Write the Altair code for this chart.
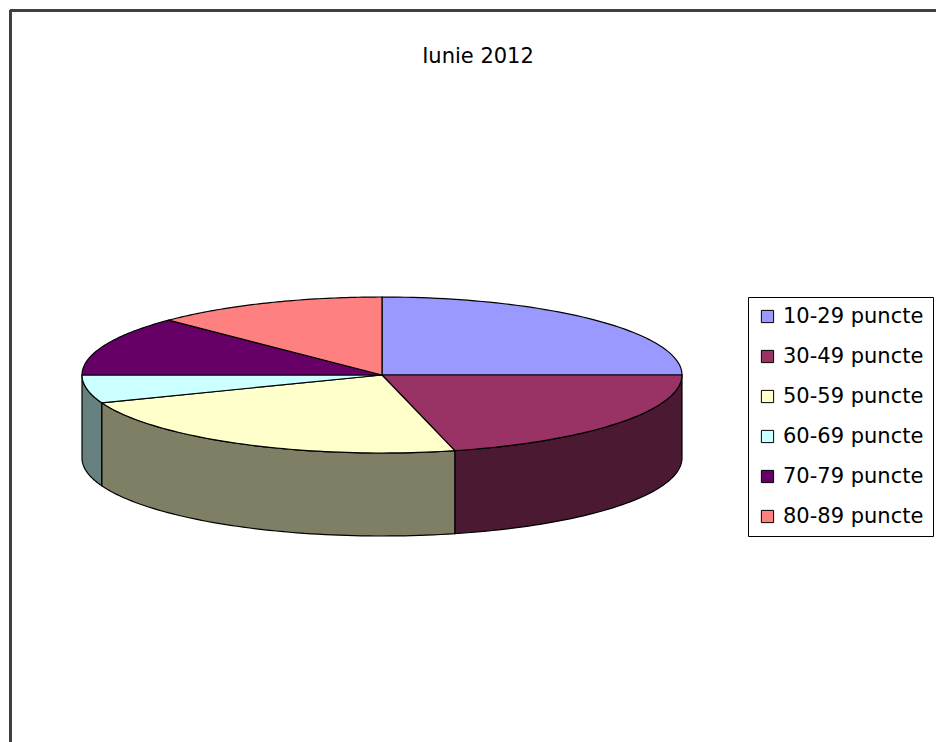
import altair as alt
import pandas as pd

# ---- data ----
categories = ["10-29 puncte", "30-49 puncte", "50-59 puncte",
              "60-69 puncte", "70-79 puncte", "80-89 puncte"]
values = [25.0, 21.1, 23.1, 5.8, 12.4, 12.6]

top_colors = ["#9999FF", "#993366", "#FFFFCC", "#CCFFFF", "#660066", "#FF8080"]
wall_colors = ["#4C4C80", "#4C1933", "#7F7F66", "#667F7F", "#330033", "#804040"]

df = pd.DataFrame({"category": categories, "value": values, "i": list(range(len(values)))})

# ---- geometry constants (pie drawn as tilted ellipse) ----
W, H = 926, 732          # plot area
PX = 300.0               # pixels per unit radius
CX, CY = 382 - 10, 375 - 10   # pie centre inside plot area (px)
K = 78 / PX              # vertical squash of the ellipse
D = 83 / PX              # depth of the wall
xmin = -CX / PX
xmax = xmin + W / PX
ymax = CY / PX
ymin = ymax - H / PX

xs = alt.Scale(domain=[xmin, xmax], nice=False, zero=False)
ys = alt.Scale(domain=[ymin, ymax], nice=False, zero=False)

base = alt.Chart(df).transform_window(
    cum="sum(value)", sort=[alt.SortField("i")]
).transform_joinaggregate(
    total="sum(value)"
).transform_calculate(
    a0="2*PI*(datum.cum - datum.value)/datum.total",
    a1="2*PI*datum.cum/datum.total",
)

N = 60
# top faces
tops = base.transform_calculate(
    pts=f"sequence(0, {N + 3})"
).transform_flatten(["pts"], as_=["j"]).transform_calculate(
    ang=f"datum.a0 + (datum.a1 - datum.a0) * (datum.j - 1) / {N}",
).transform_calculate(
    px=f"(datum.j == 0 || datum.j == {N + 2}) ? 0 : sin(datum.ang)",
    py=f"(datum.j == 0 || datum.j == {N + 2}) ? 0 : {K} * cos(datum.ang)",
).mark_line(filled=True, stroke="black", strokeWidth=1.2, strokeJoin="miter").encode(
    x=alt.X("px:Q", scale=xs, axis=None),
    y=alt.Y("py:Q", scale=ys, axis=None),
    order="j:Q",
    color=alt.Color(
        "category:N",
        scale=alt.Scale(domain=categories, range=top_colors),
        legend=alt.Legend(
            orient="none", legendX=738, legendY=287, title=None,
            symbolType="square", symbolSize=150, symbolStrokeColor="black",
            symbolStrokeWidth=1, symbolOpacity=1,
            labelFont="DejaVu Sans", labelFontSize=21, labelColor="black",
            labelOffset=5, rowPadding=18, padding=9,
            strokeColor="black", fillColor="white",
        ),
    ),
)

# front walls
walls = base.transform_calculate(
    b0="max(datum.a0, PI/2)",
    b1="min(datum.a1, 3*PI/2)",
).transform_filter("datum.b1 > datum.b0").transform_calculate(
    pts=f"sequence(0, {2 * N + 3})"
).transform_flatten(["pts"], as_=["j"]).transform_calculate(
    ang=(f"datum.j <= {N} ? datum.b0 + (datum.b1 - datum.b0) * datum.j / {N} : "
         f"(datum.j <= {2 * N + 1} ? datum.b1 - (datum.b1 - datum.b0) * (datum.j - {N + 1}) / {N} : datum.b0)"),
    low=f"(datum.j > {N} && datum.j <= {2 * N + 1}) ? 1 : 0",
).transform_calculate(
    px="sin(datum.ang)",
    py=f"{K} * cos(datum.ang) - {D} * datum.low",
).mark_line(filled=True, stroke="black", strokeWidth=1.2, strokeJoin="miter").encode(
    x=alt.X("px:Q", scale=xs, axis=None),
    y=alt.Y("py:Q", scale=ys, axis=None),
    order="j:Q",
    color=alt.Color(
        "category:N",
        scale=alt.Scale(domain=categories, range=wall_colors),
        legend=None,
    ),
)

top_rule = alt.Chart(df).mark_rule(color="#404040", strokeWidth=2.5).encode(
    x=alt.value(0), x2=alt.value(W), y=alt.value(0.5)
)
left_rule = alt.Chart(df).mark_rule(color="#404040", strokeWidth=2.5).encode(
    x=alt.value(0.5), y=alt.value(0), y2=alt.value(H)
)

chart = alt.layer(walls, tops, top_rule, left_rule).resolve_scale(
    color="independent"
).properties(
    width=W, height=H,
    autosize=alt.AutoSizeParams(type="none"),
    padding={"left": 10, "top": 10, "right": 0, "bottom": 0},
    background="white",
    title=alt.TitleParams(
        "Iunie 2012", orient="top", anchor="middle", offset=-58, dx=5,
        font="DejaVu Sans", fontSize=21, fontWeight="normal", color="black",
    ),
).configure_view(stroke=None)

chart.save("out.html", embed_options={"renderer": "svg", "actions": False})
